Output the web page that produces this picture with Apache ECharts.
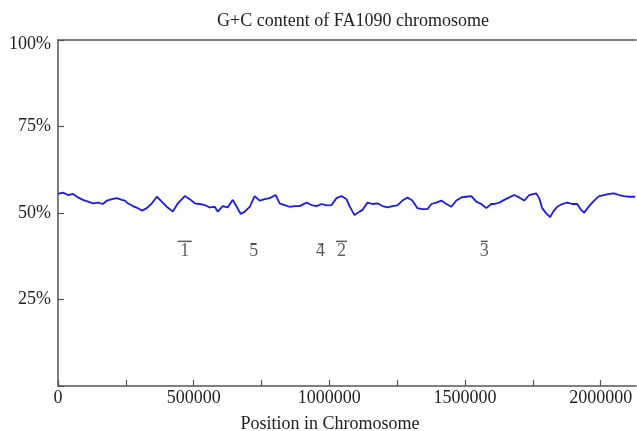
<!DOCTYPE html>
<html>
<head>
<meta charset="utf-8">
<script src="https://cdn.jsdelivr.net/npm/echarts@6/dist/echarts.min.js"></script>
<style>
  html, body { margin: 0; padding: 0; background: #fff; }
  #chart { width: 637px; height: 431px; }
</style>
</head>
<body>
<div id="chart"></div>
<script>
// position along chromosome (bp)
const positions = [
  0, 18400, 36800, 55200, 73600, 92000, 110400, 128800, 147200, 165600,
  180300, 198700, 217100, 235500, 246500, 257500, 275900, 294300, 309000, 327400,
  345800, 364200, 382600, 401000, 423100, 441500, 467200, 485600, 504000, 522400,
  540800, 559200, 577600, 588600, 607000, 625400, 643800, 658500, 673300, 688000,
  706400, 724800, 743200, 761600, 780000, 802000, 816700, 835100, 853500, 871900,
  890300, 916100, 934500, 952900, 971300, 989700, 1008000, 1026400, 1044800, 1063200,
  1074300, 1092700, 1111100, 1122100, 1140500, 1158900, 1177300, 1195700, 1214100, 1232500,
  1250900, 1269300, 1287700, 1306000, 1324400, 1342800, 1361200, 1375900, 1394300, 1412700,
  1431100, 1449500, 1467900, 1486300, 1504700, 1523100, 1541500, 1559900, 1578300, 1596700,
  1607700, 1626100, 1644500, 1662900, 1681300, 1699700, 1718100, 1736500, 1762200, 1773300,
  1784300, 1799000, 1813700, 1824800, 1839500, 1857900, 1876300, 1894700, 1913100, 1927800,
  1938800, 1957300, 1975700, 1994000, 2012400, 2030800, 2049200, 2067600, 2086000, 2104400,
  2126500
];
// G+C content (%)
const gcContent = [
  55.5, 55.9, 55.2, 55.5, 54.5, 53.8, 53.3, 52.8, 53.0, 52.6,
  53.6, 54.0, 54.3, 53.8, 53.6, 52.8, 52.0, 51.4, 50.7, 51.4,
  52.8, 54.7, 53.3, 51.8, 50.4, 52.8, 54.9, 54.0, 52.8, 52.6,
  52.3, 51.6, 51.8, 50.4, 52.0, 51.6, 53.8, 51.8, 49.7, 50.4,
  51.8, 54.9, 53.6, 54.0, 54.3, 55.2, 52.8, 52.3, 51.8, 52.0,
  52.0, 53.0, 52.3, 52.0, 52.6, 52.2, 52.3, 54.3, 54.9, 54.0,
  52.0, 49.4, 50.4, 50.9, 53.0, 52.6, 52.8, 52.0, 51.6, 52.0,
  52.2, 53.6, 54.5, 53.6, 51.4, 51.1, 51.1, 52.6, 53.0, 53.6,
  52.6, 51.8, 53.6, 54.5, 54.7, 54.9, 53.3, 52.6, 51.4, 52.6,
  52.6, 53.0, 53.8, 54.5, 55.2, 54.5, 53.6, 55.2, 55.7, 54.3,
  51.4, 49.9, 48.8, 50.4, 51.8, 52.6, 53.0, 52.6, 52.6, 50.9,
  50.1, 52.0, 53.6, 54.9, 55.2, 55.5, 55.7, 55.2, 54.9, 54.7,
  54.7
];
// numbered regions marked under the curve
const regionNames = ['1', '5', '4', '2', '3'];
const regionPositions = [467200, 721100, 967600, 1044800, 1570900];

const yTicks = [0, 25, 50, 75, 100];

const barWidths = [14, 5, 5, 11, 7];
const serif = 'Liberation Serif';
const axisColor = '#555';
const textColor = '#222';

const chart = echarts.init(document.getElementById('chart'));

const lineData = positions.map((p, i) => [p, gcContent[i]]);
const labelData = regionPositions.map((p, i) => ({ name: regionNames[i], value: [p, 39] }));
const barData = regionPositions.map((p, i) => ({
  value: [p, regionNames[i] === '5' || regionNames[i] === '4' ? 41.0 : 41.8],
  symbolSize: [barWidths[i], 1.5]
}));

chart.setOption({
  animation: false,
  title: {
    text: 'G+C content of FA1090 chromosome',
    left: 348,
    top: 7,
    textAlign: 'center',
    textStyle: { fontFamily: serif, fontSize: 18, fontWeight: 'normal', color: textColor }
  },
  grid: { left: 58, right: 1, top: 40, bottom: 45, outerBoundsMode: 'none', containLabel: false },
  xAxis: [
    {
      type: 'value',
      min: 0,
      max: 2130000,
      interval: 250000,
      name: 'Position in Chromosome',
      nameLocation: 'middle',
      nameGap: 29,
      nameTextStyle: { fontFamily: serif, fontSize: 18, color: textColor, padding: [0, 34, 0, 0] },
      axisLine: { lineStyle: { color: axisColor, width: 1.5 } },
      axisTick: { inside: true, length: 6, lineStyle: { color: axisColor, width: 1.2 } },
      axisLabel: {
        fontFamily: serif, fontSize: 18, color: textColor, margin: 3,
        showMaxLabel: false,
        formatter: v => (v % 500000 === 0 ? String(v) : '')
      },
      splitLine: { show: false }
    },
    {
      type: 'value',
      position: 'top',
      min: 0,
      max: 2130000,
      axisLine: { show: true, onZero: false, lineStyle: { color: axisColor, width: 1.5 } },
      axisTick: { show: false },
      axisLabel: { show: false },
      splitLine: { show: false }
    }
  ],
  yAxis: {
    type: 'value',
    min: yTicks[0],
    max: yTicks[yTicks.length - 1],
    interval: 25,
    axisLine: { show: true, lineStyle: { color: axisColor, width: 1.5 } },
    axisTick: { show: true, inside: true, length: 6, lineStyle: { color: axisColor, width: 1.2 } },
    axisLabel: {
      fontFamily: serif, fontSize: 18, color: textColor, margin: 7,
      formatter: v => (v === 0 ? '' : v === 100 ? '{top|100%}' : v + '%'),
      rich: { top: { fontFamily: serif, fontSize: 18, color: textColor, padding: [8, 0, 0, 0] } }
    },
    splitLine: { show: false }
  },
  series: [
    {
      type: 'line',
      data: lineData,
      symbol: 'none',
      lineStyle: { color: '#1a1aee', width: 1.8 },
      z: 3
    },
    {
      type: 'scatter',
      data: barData,
      symbol: 'rect',
      itemStyle: { color: '#333' },
      silent: true
    },
    {
      type: 'scatter',
      data: labelData,
      symbolSize: 1,
      itemStyle: { color: 'transparent' },
      label: {
        show: true,
        position: 'inside',
        formatter: p => p.name,
        fontFamily: serif,
        fontSize: 18,
        color: '#333'
      },
      silent: true
    }
  ]
});
</script>
</body>
</html>
